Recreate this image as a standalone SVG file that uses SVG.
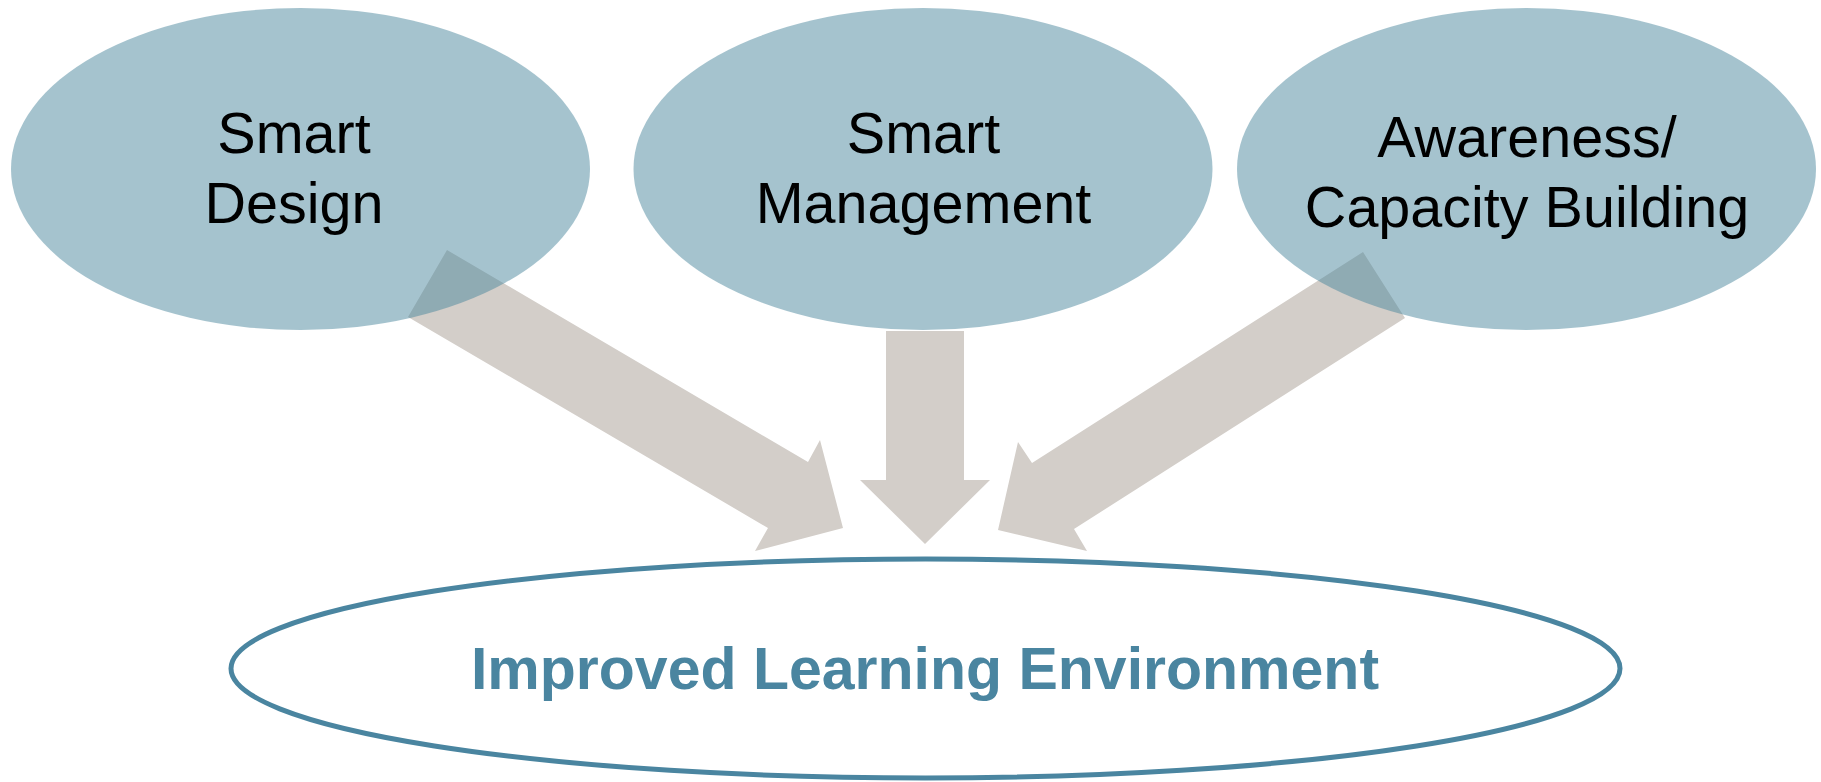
<svg xmlns="http://www.w3.org/2000/svg" width="1821" height="782" viewBox="0 0 1821 782">
  <style>
    .arrow { fill: #d3cec9; stroke: none; }
    .top { fill: #4b879d; fill-opacity: 0.5; stroke: none; }
    .lbl { font-family: "Liberation Sans", Arial, sans-serif; font-size: 57.5px; fill: #000000; text-anchor: middle; }
    .goal { fill: #ffffff; stroke: #4a85a0; stroke-width: 5; }
    .goal-lbl { font-family: "Liberation Sans", Arial, sans-serif; font-size: 59px; font-weight: bold; fill: #4a85a0; text-anchor: middle; }
  </style>
  <rect width="1821" height="782" fill="#ffffff"/>
  <g id="connectors">
    <polygon class="arrow" points="447,250 808,462 820,440 843,528 755,551 768,528 408,317"/>
    <polygon class="arrow" points="886,331 964,331 964,480 990,480 925,544 860,480 886,480"/>
    <polygon class="arrow" points="1363,252 1032,463 1018,442 998,530 1087,551 1074,529 1405,318"/>
  </g>
  <g id="node-smart-design">
    <ellipse class="top" cx="300.5" cy="169" rx="289.5" ry="161"/>
    <text class="lbl" x="294" y="153">Smart</text>
    <text class="lbl" x="294" y="223">Design</text>
  </g>
  <g id="node-smart-management">
    <ellipse class="top" cx="923" cy="169" rx="289.5" ry="161"/>
    <text class="lbl" x="923.5" y="153">Smart</text>
    <text class="lbl" x="923.5" y="223">Management</text>
  </g>
  <g id="node-awareness">
    <ellipse class="top" cx="1526.5" cy="169" rx="289.5" ry="161"/>
    <text class="lbl" x="1527" y="157">Awareness/</text>
    <text class="lbl" x="1527" y="227">Capacity Building</text>
  </g>
  <g id="node-improved-learning">
    <ellipse class="goal" cx="925.5" cy="668.5" rx="694.5" ry="109.5"/>
    <text class="goal-lbl" x="925" y="689">Improved Learning Environment</text>
  </g>
</svg>
